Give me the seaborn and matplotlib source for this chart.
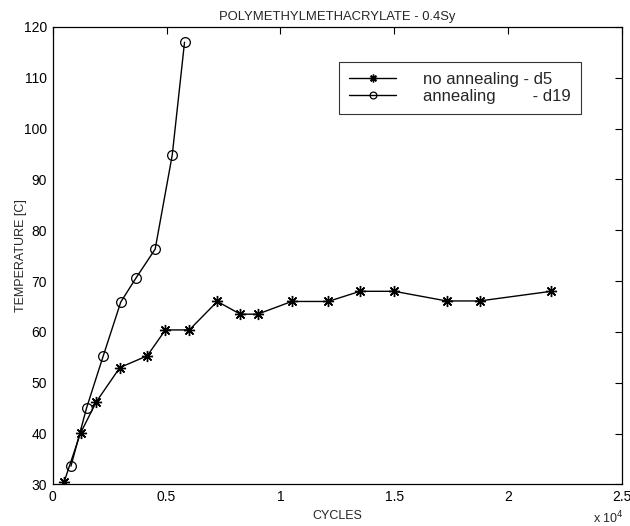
import matplotlib
matplotlib.use("Agg")
import matplotlib.pyplot as plt
import seaborn as sns
import pandas as pd

# ---- data ----
no_anneal_cycles = [500, 1220, 1920, 2950, 4150, 4950, 6000, 7230, 8240, 9000,
                    10500, 12100, 13500, 15000, 17300, 18750, 21900]
no_anneal_temp = [30.5, 40.1, 46.3, 53.0, 55.3, 60.4, 60.4, 66.0, 63.5, 63.5,
                  66.0, 66.0, 68.0, 68.0, 66.1, 66.1, 68.0]
anneal_cycles = [800, 1490, 2220, 2990, 3670, 4500, 5250, 5790]
anneal_temp = [33.6, 45.1, 55.3, 65.9, 70.7, 76.3, 94.8, 117.0]

x_ticks = [0, 5000, 10000, 15000, 20000, 25000]
x_tick_labels = ["0", "0.5", "1", "1.5", "2", "2.5"]
y_ticks = [30, 40, 50, 60, 70, 80, 90, 100, 110, 120]

title = "POLYMETHYLMETHACRYLATE - 0.4Sy"
xlabel = "CYCLES"
ylabel = "TEMPERATURE [C]"
label_no = "no annealing - d5"
label_an = "annealing        - d19"

sns.set_style("white")
plt.rcParams["font.family"] = ["Liberation Sans", "DejaVu Sans"]

df_no = pd.DataFrame({"cycles": no_anneal_cycles, "temp": no_anneal_temp})
df_an = pd.DataFrame({"cycles": anneal_cycles, "temp": anneal_temp})

fig = plt.figure(figsize=(6.3, 5.26), dpi=100)
ax = fig.add_axes([0.0837, 0.079, 0.9033, 0.8697])

sns.lineplot(data=df_no, x="cycles", y="temp", ax=ax, color="black",
             marker=(8, 2, 0), markersize=8, markeredgewidth=1.0,
             markeredgecolor="black", linewidth=1.0, label=label_no)
sns.lineplot(data=df_an, x="cycles", y="temp", ax=ax, color="black",
             marker="o", markersize=7, markerfacecolor="none",
             markeredgecolor="black", markeredgewidth=0.9,
             linewidth=1.0, label=label_an)

ax.set_xlim(0, 25000)
ax.set_ylim(30, 120)
ax.set_xticks(x_ticks)
ax.set_xticklabels(x_tick_labels)
ax.set_yticks(y_ticks)
ax.tick_params(direction="in", length=5, width=0.8, top=True, right=True,
               labelsize=10, colors="black", pad=4)
for s in ax.spines.values():
    s.set_color("black")
    s.set_linewidth(0.9)

ax.set_title(title, fontsize=9.4, pad=5)
ax.set_xlabel(xlabel, fontsize=9, labelpad=4)
ax.set_ylabel(ylabel, fontsize=9)
ax.yaxis.set_label_coords(-0.045, 0.5)
fig.text(0.99, 0.0, r"x 10$^4$", ha="right", va="bottom", fontsize=9)

leg = ax.legend(loc="upper right", bbox_to_anchor=(0.928, 0.9235),
                fontsize=12, frameon=True, fancybox=False,
                handlelength=2.85, borderpad=0.6, labelspacing=0.1,
                handletextpad=1.6, borderaxespad=0, markerscale=0.7)
leg.get_frame().set_edgecolor("black")
leg.get_frame().set_linewidth(0.8)

fig.savefig("out.png", dpi=100)
